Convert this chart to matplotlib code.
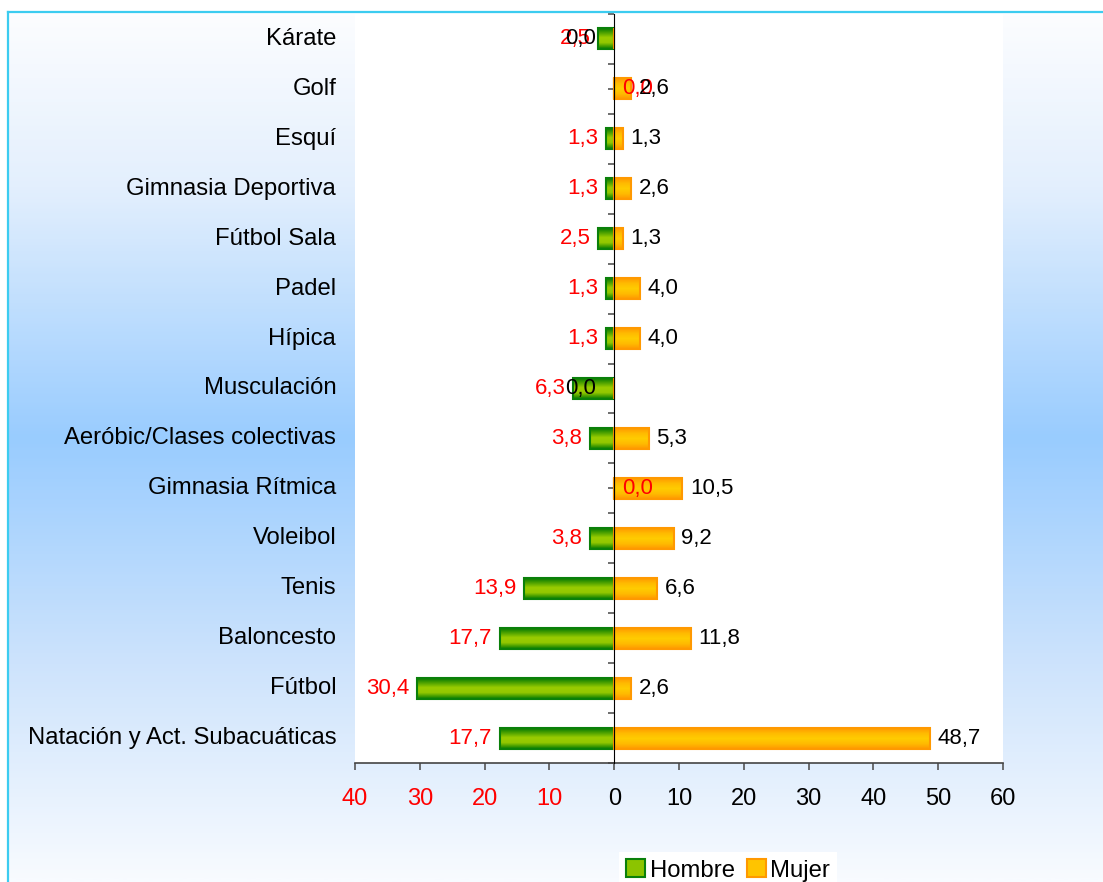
import numpy as np
import matplotlib
matplotlib.use('Agg')
import matplotlib.pyplot as plt
import matplotlib.transforms as mtransforms
from matplotlib.colors import LinearSegmentedColormap
from matplotlib.patches import Patch
from matplotlib.lines import Line2D

plt.rcParams['font.family'] = ['Liberation Sans', 'DejaVu Sans']

# datos (porcentaje por sexo)
deportes = ['Kárate', 'Golf', 'Esquí', 'Gimnasia Deportiva', 'Fútbol Sala', 'Padel',
            'Hípica', 'Musculación', 'Aeróbic/Clases colectivas', 'Gimnasia Rítmica',
            'Voleibol', 'Tenis', 'Baloncesto', 'Fútbol', 'Natación y Act. Subacuáticas']
hombre = [2.5, 0.0, 1.3, 1.3, 2.5, 1.3, 1.3, 6.3, 3.8, 0.0, 3.8, 13.9, 17.7, 30.4, 17.7]
mujer = [0.0, 2.6, 1.3, 2.6, 1.3, 4.0, 4.0, 0.0, 5.3, 10.5, 9.2, 6.6, 11.8, 2.6, 48.7]
ticks_x = [-40, -30, -20, -10, 0, 10, 20, 30, 40, 50, 60]
ticks_lab = ['40', '30', '20', '10', '0', '10', '20', '30', '40', '50', '60']

W, H = 1103, 882
FS_CAT = 17.2
FS_TICK = 17
FS_VAL = 16
fig = plt.figure(figsize=(W / 100, H / 100), dpi=100)

# fondo degradado
bg = fig.add_axes([8 / W, 0, 1 - 8 / W, 1 - 12 / H], zorder=-10)
cmap_bg = LinearSegmentedColormap.from_list(
    'bg', [(0, '#fcfdff'), (0.2, '#e3effd'), (0.49, '#99ccff'), (0.75, '#cde3fc'), (1, '#f8fbff')])
bg.imshow(np.linspace(0, 1, 300).reshape(-1, 1), aspect='auto', cmap=cmap_bg, extent=[0, 1, 0, 1])
bg.axis('off')
fig.add_artist(Line2D([8 / W, 8 / W], [0, 1 - 12 / H], color='#3cccf0', lw=1.6, transform=fig.transFigure))
fig.add_artist(Line2D([8 / W, 1], [1 - 12 / H, 1 - 12 / H], color='#3cccf0', lw=1.6, transform=fig.transFigure))

ax = fig.add_axes([355 / W, 1 - 763 / H, 648 / W, 749 / H])
ax.set_facecolor('white')

cmap_h = LinearSegmentedColormap.from_list(
    'h', [(0, '#067a06'), (0.18, '#3f9a00'), (0.45, '#99cc00'), (0.7, '#93c800'), (0.88, '#3f9a00'), (1, '#067a06')])
cmap_m = LinearSegmentedColormap.from_list(
    'm', [(0, '#ff9900'), (0.25, '#ffbb00'), (0.5, '#ffcc00'), (0.75, '#ffbb00'), (1, '#ff9900')])
grad = np.linspace(0, 1, 50).reshape(-1, 1)

y = np.arange(len(deportes))
bh = 0.42
bars_h = ax.barh(y, [-v for v in hombre], height=bh, facecolor='none', edgecolor='#0a800a', lw=1.5, zorder=4)
bars_m = ax.barh(y, mujer, height=bh, facecolor='none', edgecolor='#ff9900', lw=1.5, zorder=4)

for bars, cmap in [(bars_h, cmap_h), (bars_m, cmap_m)]:
    for b in bars:
        if b.get_width() == 0:
            continue
        x0, x1 = sorted([b.get_x(), b.get_x() + b.get_width()])
        ax.imshow(grad, aspect='auto', cmap=cmap, zorder=3,
                  extent=[x0, x1, b.get_y() + b.get_height(), b.get_y()])


def fmt(v):
    return f'{v:.1f}'.replace('.', ',')


for i in range(len(deportes)):
    h, m = hombre[i], mujer[i]
    if h > 0:
        ax.annotate(fmt(h), xy=(-h, i), xytext=(-5.5, 0), textcoords='offset points',
                    ha='right', va='center', color='red', fontsize=FS_VAL, zorder=5)
    else:
        ax.annotate(fmt(h), xy=(0, i), xytext=(6, 0), textcoords='offset points',
                    ha='left', va='center', color='red', fontsize=FS_VAL, zorder=5)
    if m > 0:
        ax.annotate(fmt(m), xy=(m, i), xytext=(5.5, 0), textcoords='offset points',
                    ha='left', va='center', color='black', fontsize=FS_VAL, zorder=6)
    else:
        ax.annotate(fmt(m), xy=(0, i), xytext=(-13, 0), textcoords='offset points',
                    ha='right', va='center', color='black', fontsize=FS_VAL, zorder=6)

trans = mtransforms.blended_transform_factory(ax.transAxes, ax.transData)
for i, d in enumerate(deportes):
    ax.text(-0.029, i, d, transform=trans, ha='right', va='center', fontsize=FS_CAT)

ax.set_xlim(-40, 60)
ax.set_ylim(len(deportes) - 0.5, -0.5)
ax.set_yticks(y)
ax.set_yticks(np.arange(-0.5, len(deportes), 1), minor=True)
ax.set_yticklabels([])
ax.tick_params(axis='y', which='both', direction='out', length=4.5, width=1.2, color='#555555')
ax.set_xticks(ticks_x)
ax.set_xticklabels(ticks_lab, fontsize=FS_TICK)
for t, v in zip(ax.get_xticklabels(), ticks_x):
    t.set_color('red' if v < 0 else 'black')
ax.tick_params(axis='x', length=5, width=1.2, pad=13, color='#555555')

ax.spines['top'].set_visible(False)
ax.spines['right'].set_visible(False)
ax.spines['left'].set_position(('data', 0))
ax.spines['left'].set_color('black')
ax.spines['left'].set_zorder(5)
ax.spines['bottom'].set_color('#444444')
ax.spines['bottom'].set_linewidth(1.2)

fig.legend(handles=[Patch(facecolor='#8cc400', edgecolor='#0a800a', lw=1.5),
                    Patch(facecolor='#ffc400', edgecolor='#ff9900', lw=1.5)],
           labels=['Hombre', 'Mujer'], loc='upper center', bbox_to_anchor=(728 / W, 1 - 852 / H),
           borderaxespad=0, ncol=2, frameon=True, facecolor='white', edgecolor='none', framealpha=1,
           fancybox=False, handlelength=0.8, handleheight=0.8, handletextpad=0.2, columnspacing=0.5,
           borderpad=0.3, fontsize=FS_CAT)

fig.savefig('out.png', dpi=100)
